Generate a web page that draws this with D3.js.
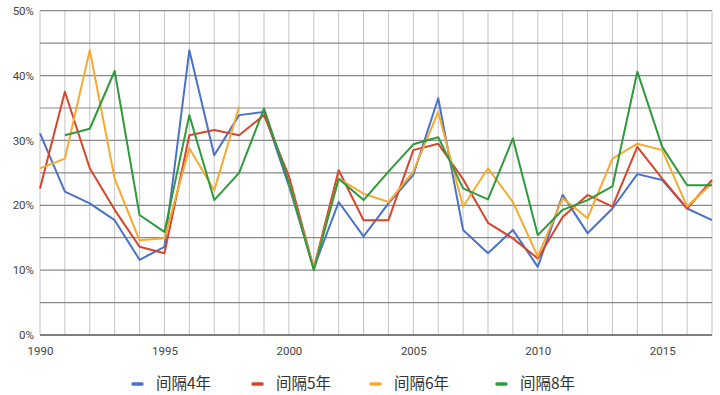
<!DOCTYPE html>
<html>
<head>
<meta charset="utf-8">
<script src="https://cdnjs.cloudflare.com/ajax/libs/d3/7.8.5/d3.min.js"></script>
<style>
	body { margin: 0; background: #fff; }
	svg { display: block; font-family: Roboto, "Noto Sans CJK SC", sans-serif; }
</style>
</head>
<body>
<div id="chart-area"></div>
<script>
// ** Data **
var years = d3.range(1990, 2018);
var seriesNames = ["间隔4年", "间隔5年", "间隔6年", "间隔8年"];
var seriesColors = ["#4a72c6", "#d5462c", "#f5aa32", "#2e9a3c"];

var gap4 = [31.1, 22.1, 20.3, 17.7, 11.6, 13.6, 43.9, 27.7, 33.9, 34.4,
	23.0, 10.3, 20.5, 15.2, 20.3, 24.7, 36.5, 16.2, 12.6, 16.2,
	10.5, 21.6, 15.7, 19.5, 24.8, 23.9, 19.5, 17.7];
var gap5 = [22.6, 37.5, 25.7, 19.3, 13.6, 12.6, 30.8, 31.6, 30.8, 33.9,
	24.5, 10.3, 25.4, 17.7, 17.7, 28.5, 29.5, 24.0, 17.3, 14.9,
	11.8, 18.2, 21.6, 19.8, 29.0, 24.1, 19.5, 23.9];
var gap6 = [25.7, 27.2, 43.9, 24.1, 14.6, 14.9, 28.8, 22.3, 35.2, null,
	23.5, 10.3, 24.1, 21.8, 20.5, 25.2, 34.4, 19.8, 25.7, 20.5,
	12.1, 21.1, 18.0, 27.2, 29.5, 28.5, 19.8, 23.4];
var gap8 = [null, 30.8, 31.8, 40.7, 18.5, 15.9, 33.9, 20.8, 25.0, 34.9,
	23.5, 10.0, 24.1, 20.8, 25.2, 29.4, 30.5, 22.6, 20.9, 30.3,
	15.4, 19.3, 20.8, 22.9, 40.6, 29.0, 23.1, 23.1];

var yTicks = [0, 10, 20, 30, 40, 50];
var xTicks = [1990, 1995, 2000, 2005, 2010, 2015];

var allSeries = [gap4, gap5, gap6, gap8];

// ** Dimensions **
var svgWidth = 720, svgHeight = 395;
var margin = { left: 40, right: 8, top: 10.7, bottom: 60 };
var width = svgWidth - margin.left - margin.right;
var height = 335 - margin.top;

var svg = d3.select("#chart-area")
	.append("svg")
	.attr("width", svgWidth)
	.attr("height", svgHeight);

var g = svg.append("g")
	.attr("transform", "translate(" + margin.left + ", " + margin.top + ")");

// Scales
var x = d3.scaleLinear()
	.domain([1990, 2017])
	.range([0, width]);
var y = d3.scaleLinear()
	.domain([0, 50])
	.range([height, 0]);

// Vertical gridlines, one per year
g.selectAll(".v-grid")
	.data(years)
	.enter().append("line")
	.attr("class", "v-grid")
	.attr("x1", function(d){ return x(d); })
	.attr("x2", function(d){ return x(d); })
	.attr("y1", 0)
	.attr("y2", height)
	.attr("stroke", "#c4c4c4")
	.attr("stroke-width", 1);

// Horizontal gridlines every 5%
g.selectAll(".h-grid")
	.data(d3.range(5, 55, 5))
	.enter().append("line")
	.attr("class", "h-grid")
	.attr("x1", 0)
	.attr("x2", width)
	.attr("y1", function(d){ return y(d); })
	.attr("y2", function(d){ return y(d); })
	.attr("stroke", "#8a8a8a")
	.attr("stroke-width", 1.2);

// Baseline
g.append("line")
	.attr("x1", 0).attr("x2", width)
	.attr("y1", y(0)).attr("y2", y(0))
	.attr("stroke", "#555")
	.attr("stroke-width", 1.5);

// Y Axis
var yAxisCall = d3.axisLeft(y)
	.tickValues(yTicks)
	.tickSize(0)
	.tickPadding(6)
	.tickFormat(function(d){ return d + "%"; });
var yAxis = g.append("g").call(yAxisCall);
yAxis.select(".domain").remove();
yAxis.selectAll("text")
	.attr("font-size", 11.5)
	.attr("fill", "#444")
	.style("font-family", "Roboto, sans-serif");

// X Axis
var xAxisCall = d3.axisBottom(x)
	.tickValues(xTicks)
	.tickSize(0)
	.tickPadding(12)
	.tickFormat(d3.format("d"));
var xAxis = g.append("g")
	.attr("transform", "translate(0, " + height + ")")
	.call(xAxisCall);
xAxis.select(".domain").remove();
xAxis.selectAll("text")
	.attr("font-size", 11.5)
	.attr("fill", "#444")
	.style("font-family", "Roboto, sans-serif");

// Lines
var line = d3.line()
	.defined(function(d){ return d.v !== null; })
	.x(function(d){ return x(d.year); })
	.y(function(d){ return y(d.v); });

allSeries.forEach(function(values, i){
	var points = years.map(function(year, j){
		return { year: year, v: values[j] };
	});
	g.append("path")
		.datum(points)
		.attr("fill", "none")
		.attr("stroke", seriesColors[i])
		.attr("stroke-width", 2)
		.attr("stroke-linejoin", "round")
		.attr("d", line);
});

// ** Legend **
var legendX = [133, 253, 371, 497];
var legendY = 384;
var legend = svg.append("g");

seriesNames.forEach(function(name, i){
	var row = legend.append("g")
		.attr("transform", "translate(" + legendX[i] + ", " + legendY + ")");
	row.append("line")
		.attr("x1", 0).attr("x2", 9)
		.attr("y1", 0).attr("y2", 0)
		.attr("stroke", seriesColors[i])
		.attr("stroke-width", 3.5)
		.attr("stroke-linecap", "round");
	row.append("text")
		.attr("x", 23)
		.attr("y", 0)
		.attr("dy", "0.35em")
		.attr("font-size", 15.5)
		.attr("fill", "#333")
		.style("font-family", "'Noto Sans CJK SC', sans-serif")
		.text(name);
});
</script>
</body>
</html>
